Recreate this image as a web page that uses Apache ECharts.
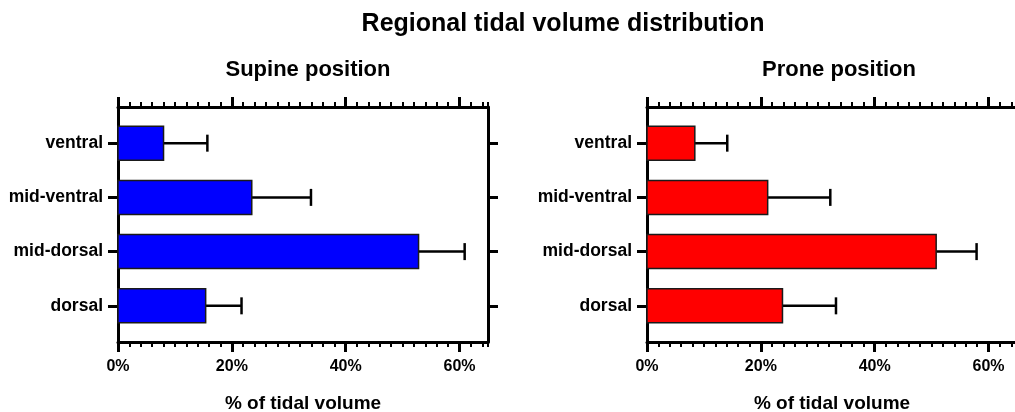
<!DOCTYPE html>
<html>
<head>
<meta charset="utf-8">
<script src="https://cdn.jsdelivr.net/npm/echarts@6/dist/echarts.min.js"></script>
<style>
  html, body { margin: 0; padding: 0; background: #fff; }
  #chart { width: 1015px; height: 412px; }
</style>
</head>
<body>
<div id="chart"></div>
<script>
// Lung regions, top to bottom
const categories = ['ventral', 'mid-ventral', 'mid-dorsal', 'dorsal'];

// Mean share of tidal volume (%) and standard deviation per region
const supineMean = [8.0, 23.5, 52.8, 15.4];
const supineSD   = [7.7, 10.4, 8.1, 6.3];
const proneMean  = [8.4, 21.2, 50.8, 23.8];
const proneSD    = [5.7, 11.0, 7.1, 9.4];

// Labelled ticks on the value axis
const xTickValues = [0, 20, 40, 60];
const xMax = 65;

const FONT = '"Liberation Sans", Arial, sans-serif';
const catPositions = categories.map((c, i) => i);

function barRenderer(color) {
  return function (params, api) {
    const idx = api.value(0);
    const mean = api.value(1);
    const sd = api.value(2);
    const p0 = api.coord([0, idx]);
    const p1 = api.coord([mean, idx]);
    const p2 = api.coord([mean + sd, idx]);
    const barH = 34;
    const capH = 17;
    return {
      type: 'group',
      children: [
        {
          type: 'line',
          shape: { x1: p1[0], y1: p1[1], x2: p2[0], y2: p2[1] },
          style: { stroke: '#000', lineWidth: 2.5 }
        },
        {
          type: 'line',
          shape: { x1: p2[0], y1: p2[1] - capH / 2, x2: p2[0], y2: p2[1] + capH / 2 },
          style: { stroke: '#000', lineWidth: 2.5 }
        },
        {
          type: 'rect',
          shape: { x: p0[0], y: p0[1] - barH / 2, width: p1[0] - p0[0], height: barH },
          style: { fill: color, stroke: '#1a1a1a', lineWidth: 1.5 }
        }
      ]
    };
  };
}

function xAxesFor(gridIndex) {
  const base = {
    gridIndex: gridIndex,
    type: 'value',
    min: 0,
    max: xMax,
    splitLine: { show: false }
  };
  return [
    // bottom: line, minor ticks every 2 %, labels
    Object.assign({}, base, {
      position: 'bottom',
      interval: 2,
      axisLine: { show: true, onZero: false, lineStyle: { color: '#000', width: 3 } },
      axisTick: { show: true, length: 5, lineStyle: { color: '#000', width: 2 } },
      axisLabel: {
        show: true,
        customValues: xTickValues,
        formatter: '{value}%',
        color: '#000',
        fontFamily: FONT,
        fontWeight: 'bold',
        fontSize: 16,
        margin: 17
      },
      name: '% of tidal volume',
      nameLocation: 'middle',
      nameGap: 52,
      nameTextStyle: { color: '#000', fontFamily: FONT, fontWeight: 'bold', fontSize: 19 }
    }),
    // bottom: major ticks
    Object.assign({}, base, {
      position: 'bottom',
      axisLine: { show: false, onZero: false },
      axisTick: { show: true, customValues: xTickValues, length: 10, lineStyle: { color: '#000', width: 3 } },
      axisLabel: { show: false }
    }),
    // top: line and minor ticks
    Object.assign({}, base, {
      position: 'top',
      interval: 2,
      axisLine: { show: true, onZero: false, lineStyle: { color: '#000', width: 3 } },
      axisTick: { show: true, length: 5, lineStyle: { color: '#000', width: 2 } },
      axisLabel: { show: false }
    }),
    // top: major ticks
    Object.assign({}, base, {
      position: 'top',
      axisLine: { show: false, onZero: false },
      axisTick: { show: true, customValues: xTickValues, length: 10, lineStyle: { color: '#000', width: 3 } },
      axisLabel: { show: false }
    })
  ];
}

function yAxesFor(gridIndex) {
  const base = {
    gridIndex: gridIndex,
    type: 'value',
    inverse: true,
    min: -0.667,
    max: categories.length - 1 + 0.667,
    splitLine: { show: false },
    axisLine: { show: true, onZero: false, lineStyle: { color: '#000', width: 3 } },
    axisTick: { show: true, customValues: catPositions, length: 10, lineStyle: { color: '#000', width: 3 } }
  };
  return [
    Object.assign({}, base, {
      position: 'left',
      axisLabel: {
        show: true,
        customValues: catPositions,
        formatter: v => categories[Math.round(v)],
        color: '#000',
        fontFamily: FONT,
        fontWeight: 'bold',
        fontSize: 17.5,
        margin: 15
      }
    }),
    Object.assign({}, base, {
      position: 'right',
      axisLabel: { show: false }
    })
  ];
}

function seriesData(mean, sd) {
  return categories.map((c, i) => [i, mean[i], sd[i]]);
}

const chart = echarts.init(document.getElementById('chart'), null, { renderer: 'canvas' });

chart.setOption({
  animation: false,
  backgroundColor: '#fff',
  title: [
    {
      text: 'Regional tidal volume distribution',
      left: 558, top: 7, textAlign: 'center',
      textStyle: { color: '#000', fontFamily: FONT, fontWeight: 'bold', fontSize: 25 }
    },
    {
      text: 'Supine position',
      left: 303, top: 54, textAlign: 'center',
      textStyle: { color: '#000', fontFamily: FONT, fontWeight: 'bold', fontSize: 22 }
    },
    {
      text: 'Prone position',
      left: 834, top: 54, textAlign: 'center',
      textStyle: { color: '#000', fontFamily: FONT, fontWeight: 'bold', fontSize: 22 }
    }
  ],
  grid: [
    { left: 118, top: 107, width: 370, height: 235, outerBoundsMode: 'none' },
    { left: 647, top: 107, width: 370, height: 235, outerBoundsMode: 'none' }
  ],
  xAxis: xAxesFor(0).concat(xAxesFor(1)),
  yAxis: yAxesFor(0).concat(yAxesFor(1)),
  series: [
    {
      name: 'Supine',
      type: 'custom',
      xAxisIndex: 0,
      yAxisIndex: 0,
      renderItem: barRenderer('#0000ff'),
      encode: { x: 1, y: 0 },
      data: seriesData(supineMean, supineSD)
    },
    {
      name: 'Prone',
      type: 'custom',
      xAxisIndex: 4,
      yAxisIndex: 2,
      renderItem: barRenderer('#ff0000'),
      encode: { x: 1, y: 0 },
      data: seriesData(proneMean, proneSD)
    }
  ]
});
</script>
</body>
</html>
